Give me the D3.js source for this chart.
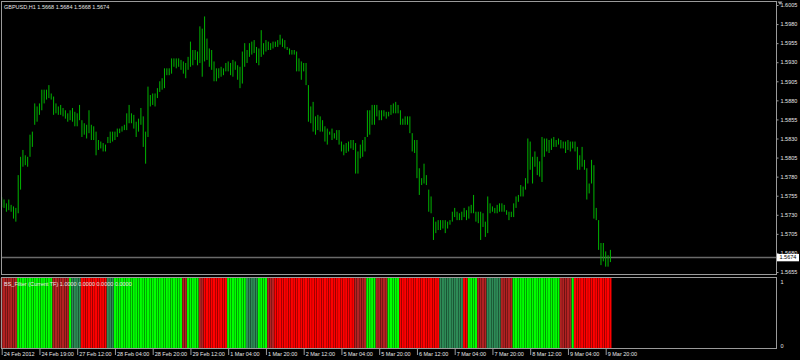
<!DOCTYPE html>
<html><head><meta charset="utf-8">
<script src="https://cdn.jsdelivr.net/npm/d3@7"></script>
<style>
body{margin:0;background:#000;}
svg{display:block;}
text{font-family:"Liberation Sans",Arial,sans-serif;}
</style>
</head><body>
<svg id="c" width="800" height="360"></svg>
<script>
// ---------- DATA ----------
const symbolTitle = "GBPUSD,H1  1.5668 1.5684 1.5668 1.5674";
const indicatorTitle = "BS_Filter (Current TF) 1.0000 0.0000 0.0000 0.0000";
const bidPrice = 1.5674;

const highs = [
1.5753,1.5750,1.5745,1.5750,1.5743,1.5741,1.5739,1.5782,1.5806,1.5815,
1.5808,1.5806,1.5835,1.5839,1.5876,1.5872,1.5876,1.5894,1.5894,1.5894,
1.5900,1.5889,1.5885,1.5876,1.5872,1.5874,1.5870,1.5867,1.5863,1.5867,
1.5870,1.5865,1.5863,1.5874,1.5854,1.5850,1.5848,1.5867,1.5848,1.5846,
1.5839,1.5828,1.5826,1.5824,1.5822,1.5832,1.5839,1.5839,1.5839,1.5843,
1.5843,1.5846,1.5848,1.5863,1.5874,1.5863,1.5861,1.5852,1.5856,1.5870,
1.5859,1.5839,1.5898,1.5887,1.5889,1.5889,1.5896,1.5905,1.5909,1.5922,
1.5922,1.5922,1.5935,1.5935,1.5935,1.5935,1.5933,1.5931,1.5929,1.5937,
1.5957,1.5946,1.5946,1.5944,1.5977,1.5974,1.5990,1.5961,1.5948,1.5946,
1.5931,1.5922,1.5922,1.5924,1.5922,1.5929,1.5931,1.5929,1.5933,1.5931,
1.5926,1.5924,1.5944,1.5955,1.5946,1.5955,1.5957,1.5959,1.5950,1.5948,
1.5972,1.5955,1.5959,1.5957,1.5955,1.5957,1.5957,1.5959,1.5966,1.5961,
1.5959,1.5950,1.5948,1.5946,1.5946,1.5944,1.5935,1.5931,1.5929,1.5929,
1.5900,1.5872,1.5878,1.5859,1.5861,1.5859,1.5854,1.5846,1.5843,1.5839,
1.5843,1.5837,1.5841,1.5841,1.5826,1.5822,1.5824,1.5826,1.5828,1.5828,
1.5824,1.5813,1.5822,1.5828,1.5832,1.5867,1.5867,1.5874,1.5874,1.5874,
1.5867,1.5867,1.5867,1.5865,1.5865,1.5874,1.5876,1.5878,1.5874,1.5867,
1.5856,1.5859,1.5859,1.5859,1.5837,1.5828,1.5828,1.5791,1.5778,1.5797,
1.5782,1.5763,1.5754,1.5727,1.5721,1.5723,1.5723,1.5723,1.5723,1.5721,
1.5723,1.5734,1.5739,1.5734,1.5732,1.5734,1.5739,1.5736,1.5741,1.5743,
1.5756,1.5734,1.5734,1.5734,1.5732,1.5721,1.5754,1.5745,1.5741,1.5739,
1.5743,1.5745,1.5745,1.5743,1.5736,1.5734,1.5734,1.5745,1.5754,1.5756,
1.5769,1.5767,1.5778,1.5830,1.5826,1.5806,1.5813,1.5806,1.5800,1.5832,
1.5830,1.5830,1.5828,1.5830,1.5832,1.5828,1.5830,1.5828,1.5826,1.5826,
1.5828,1.5826,1.5826,1.5826,1.5819,1.5808,1.5819,1.5802,1.5791,1.5771,
1.5802,1.5795,1.5739,1.5723,1.5693,1.5693,1.5682,1.5677,1.5684
];
const lows = [
1.5740,1.5739,1.5734,1.5736,1.5734,1.5725,1.5721,1.5732,1.5763,1.5793,
1.5795,1.5793,1.5806,1.5819,1.5848,1.5852,1.5861,1.5867,1.5876,1.5881,
1.5883,1.5881,1.5861,1.5863,1.5861,1.5861,1.5859,1.5856,1.5852,1.5854,
1.5852,1.5846,1.5846,1.5854,1.5832,1.5835,1.5830,1.5837,1.5828,1.5828,
1.5808,1.5815,1.5817,1.5813,1.5813,1.5824,1.5824,1.5826,1.5828,1.5832,
1.5837,1.5839,1.5841,1.5841,1.5850,1.5850,1.5843,1.5832,1.5839,1.5848,
1.5819,1.5797,1.5832,1.5872,1.5874,1.5872,1.5883,1.5891,1.5894,1.5896,
1.5913,1.5913,1.5915,1.5924,1.5922,1.5924,1.5920,1.5915,1.5909,1.5920,
1.5924,1.5926,1.5933,1.5926,1.5929,1.5911,1.5931,1.5933,1.5924,1.5920,
1.5905,1.5905,1.5909,1.5911,1.5913,1.5918,1.5918,1.5913,1.5911,1.5920,
1.5907,1.5896,1.5902,1.5924,1.5929,1.5937,1.5940,1.5942,1.5929,1.5926,
1.5937,1.5940,1.5944,1.5946,1.5946,1.5948,1.5950,1.5950,1.5953,1.5950,
1.5948,1.5946,1.5940,1.5940,1.5940,1.5918,1.5918,1.5907,1.5918,1.5900,
1.5852,1.5850,1.5839,1.5835,1.5841,1.5839,1.5839,1.5826,1.5822,1.5835,
1.5828,1.5830,1.5828,1.5822,1.5813,1.5808,1.5811,1.5813,1.5817,1.5815,
1.5784,1.5784,1.5804,1.5806,1.5813,1.5832,1.5835,1.5848,1.5848,1.5859,
1.5854,1.5854,1.5859,1.5856,1.5859,1.5861,1.5863,1.5863,1.5863,1.5848,
1.5848,1.5848,1.5848,1.5837,1.5813,1.5811,1.5778,1.5756,1.5769,1.5771,
1.5769,1.5734,1.5732,1.5697,1.5706,1.5710,1.5710,1.5712,1.5706,1.5712,
1.5717,1.5721,1.5727,1.5723,1.5723,1.5723,1.5727,1.5723,1.5725,1.5732,
1.5732,1.5721,1.5719,1.5697,1.5714,1.5701,1.5706,1.5732,1.5734,1.5732,
1.5732,1.5734,1.5734,1.5734,1.5730,1.5723,1.5727,1.5727,1.5739,1.5747,
1.5754,1.5754,1.5763,1.5771,1.5789,1.5771,1.5793,1.5782,1.5780,1.5773,
1.5806,1.5813,1.5811,1.5815,1.5819,1.5819,1.5822,1.5817,1.5817,1.5811,
1.5815,1.5813,1.5817,1.5813,1.5789,1.5789,1.5793,1.5789,1.5750,1.5758,
1.5771,1.5725,1.5723,1.5684,1.5664,1.5669,1.5662,1.5662,1.5668
];
// BS_Filter state per bar: 0 = strong up, 1 = weak up, 2 = strong down, 3 = weak down
const filterStates = [
"3333333","000000000000000","3333333","0","1111","22222","222222","111",
"00000000000000000000000000000","33","00000","33","2222222222","00000000",
"11111","0000","333","2222222222222222222222222222222222","33333","0000",
"33333","00000","22222222222222222","1111111111","22","0000","3333","111111",
"33333","00000000000000000000","33333","0","2222222222222222"
].join("").split("").map(Number);
const stateColors = ["#00ff00", "#2e8b57", "#ff0000", "#b22222"];

const priceTicks = [1.6005,1.5980,1.5955,1.5930,1.5905,1.5880,1.5855,1.5830,1.5805,1.5780,1.5755,1.5730,1.5705,1.5680,1.5655];
const timeTickBars = [0,16,32,48,64,80,96,112,128,144,160,176,192,208,224,240,256];
const timeLabels = ["24 Feb 2012","24 Feb 19:00","27 Feb 12:00","28 Feb 04:00","28 Feb 20:00","29 Feb 12:00","1 Mar 04:00","1 Mar 20:00","2 Mar 12:00","5 Mar 04:00","5 Mar 20:00","6 Mar 12:00","7 Mar 04:00","7 Mar 20:00","8 Mar 12:00","9 Mar 04:00","9 Mar 20:00"];

// ---------- LAYOUT ----------
const svg = d3.select("#c");
const frameL = 1.5, frameR = 776.5;
const mainTop = 1.5, mainBot = 274.5;
const subTop = 277.5, subBot = 348.5;
const fg = "#e6e6e6", frameCol = "#9a9a9a";

const x = d3.scaleLinear().domain([0, 256]).range([1.7, 605.7]);
const y = d3.scaleLinear().domain([1.5655, 1.6005]).range([272, 5]);
const yi = d3.scaleLinear().domain([0, 1]).range([348, 278]);

svg.append("rect").attr("width", 800).attr("height", 360).attr("fill", "#000");

// indicator histogram
const barW = 2.1;
svg.append("g").selectAll("rect").data(filterStates).join("rect")
  .attr("x", (d, i) => x(i) - barW / 2)
  .attr("y", yi(1))
  .attr("width", barW)
  .attr("height", yi(0) - yi(1))
  .attr("fill", d => stateColors[d]);

// bid line
svg.append("line").attr("x1", frameL).attr("x2", frameR)
  .attr("y1", y(bidPrice)).attr("y2", y(bidPrice))
  .attr("stroke", "#6a6a6a").attr("stroke-width", 1.5);

// price bars (high-low)
svg.append("g").selectAll("line").data(highs).join("line")
  .attr("x1", (d, i) => x(i)).attr("x2", (d, i) => x(i))
  .attr("y1", d => y(d)).attr("y2", (d, i) => y(lows[i]))
  .attr("stroke", "#00b400").attr("stroke-width", 1);

// frames
svg.append("rect").attr("x", frameL).attr("y", mainTop)
  .attr("width", frameR - frameL).attr("height", mainBot - mainTop)
  .attr("fill", "none").attr("stroke", frameCol).attr("stroke-width", 1);
svg.append("rect").attr("x", frameL).attr("y", subTop)
  .attr("width", frameR - frameL).attr("height", subBot - subTop)
  .attr("fill", "none").attr("stroke", frameCol).attr("stroke-width", 1);

// price axis
const pa = svg.append("g").attr("transform", `translate(${frameR},0)`)
  .call(d3.axisRight(y).tickValues(priceTicks).tickSize(2).tickPadding(2).tickFormat(d3.format(".4f")));
pa.select(".domain").remove();
pa.selectAll("line").attr("stroke", frameCol);
pa.selectAll("text").attr("fill", fg).attr("font-size", 5.5).attr("font-family", "Liberation Sans, Arial, sans-serif");

// bid label
svg.append("rect").attr("x", frameR + 0.5).attr("y", y(bidPrice) - 3.6).attr("width", 22).attr("height", 7.4).attr("fill", "#ffffff");
svg.append("text").attr("x", frameR + 3).attr("y", y(bidPrice)).attr("dy", "0.35em")
  .attr("font-size", 5.5).attr("fill", "#000").text(d3.format(".4f")(bidPrice));

// indicator axis
const ia = svg.append("g").attr("transform", `translate(${frameR},0)`);
ia.append("text").attr("x", 4).attr("y", yi(1) + 4).attr("dy", "0.35em").attr("font-size", 5.5).attr("fill", fg).text("1");
ia.append("text").attr("x", 4).attr("y", yi(0) - 2).attr("dy", "0.35em").attr("font-size", 5.5).attr("fill", fg).text("0");

// time axis
const ta = svg.append("g").attr("transform", `translate(0,${subBot + 0.5})`)
  .call(d3.axisBottom(x).tickValues(timeTickBars).tickSize(6).tickFormat((d, i) => timeLabels[i]));
ta.select(".domain").remove();
ta.selectAll("line").attr("stroke", frameCol);
ta.selectAll("text").attr("fill", fg).attr("font-size", 5.5)
  .attr("text-anchor", "start").attr("x", 1.5).attr("y", 3.4).attr("dy", "0.71em");

// titles
svg.append("text").attr("x", 4).attr("y", 8.5).attr("font-size", 5.5).attr("fill", fg).text(symbolTitle);
svg.append("text").attr("x", 4).attr("y", 286).attr("font-size", 5.5).attr("fill", fg).text(indicatorTitle);

// chart shift marker
svg.append("path").attr("d", d3.line()([[frameR + 1, 1.5], [frameR + 6, 1.5], [frameR + 3.5, 5]]) + "Z").attr("fill", "#9a9a9a");
</script>
</body></html>
